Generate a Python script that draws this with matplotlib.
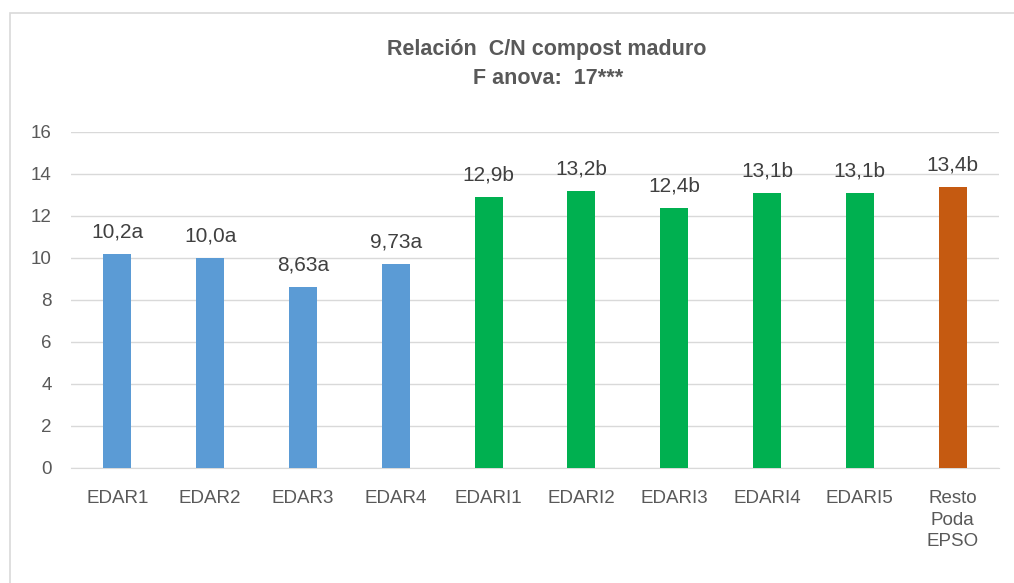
import matplotlib
matplotlib.use("Agg")
import matplotlib.pyplot as plt
from matplotlib.patches import Rectangle

categories = ["EDAR1", "EDAR2", "EDAR3", "EDAR4", "EDARI1", "EDARI2", "EDARI3", "EDARI4", "EDARI5", "Resto\nPoda\nEPSO"]
values = [10.2, 10.0, 8.63, 9.73, 12.9, 13.2, 12.4, 13.1, 13.1, 13.4]
value_labels = ["10,2a", "10,0a", "8,63a", "9,73a", "12,9b", "13,2b", "12,4b", "13,1b", "13,1b", "13,4b"]
bar_colors = ["#5B9BD5"] * 4 + ["#00B050"] * 5 + ["#C55A11"]
yticks = [0, 2, 4, 6, 8, 10, 12, 14, 16]

plt.rcParams['font.family'] = ['Liberation Sans', 'DejaVu Sans']

fig = plt.figure(figsize=(10.14, 5.83), dpi=100)
fig.patches.append(Rectangle((10/1014, -0.1), 1.2, 1 - 13/583 + 0.1, transform=fig.transFigure,
                             fill=False, edgecolor="#D9D9D9", linewidth=1.2))

ax = fig.add_axes([71/1014, 1 - 468/583, (999 - 71)/1014, (468 - 132)/583])
x = list(range(len(categories)))
ax.bar(x, values, width=0.3, color=bar_colors, zorder=3)
ax.set_xlim(-0.5, len(categories) - 0.5)
ax.set_ylim(0, 16)
ax.set_yticks(yticks)
ax.set_yticklabels([str(t) for t in yticks])
ax.set_xticks(x)
ax.set_xticklabels(categories, linespacing=1.35)
ax.tick_params(axis='both', length=0, colors="#595959", labelsize=13.5)
ax.tick_params(axis='x', pad=16)
ax.tick_params(axis='y', pad=14)
ax.grid(axis='y', color="#D9D9D9", linewidth=1, zorder=0)
for s in ["top", "right", "left"]:
    ax.spines[s].set_visible(False)
ax.spines["bottom"].set_color("#D9D9D9")

for xi, v, lab in zip(x, values, value_labels):
    ax.annotate(lab, (xi, v), xytext=(0, 9), textcoords="offset points",
                ha="center", va="bottom", fontsize=15, color="#404040")

fig.text(547/1014, 1 - 49/583, "Relación  C/N compost maduro", ha="center", va="center",
         fontsize=15.5, color="#595959", fontweight="bold")
fig.text(548/1014, 1 - 78/583, "F anova:  17***", ha="center", va="center",
         fontsize=15.5, color="#595959", fontweight="bold")

fig.savefig("out.png", dpi=100)
